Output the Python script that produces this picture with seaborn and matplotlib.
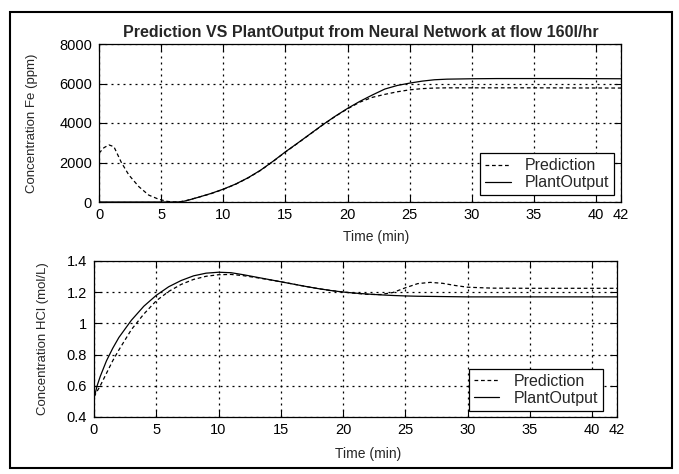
import matplotlib
matplotlib.use("Agg")
import matplotlib.pyplot as plt
import seaborn as sns
import pandas as pd
from matplotlib.patches import Rectangle

# ---------------- data ----------------
title = "Prediction VS PlantOutput from Neural Network at flow 160l/hr"
xlabel = "Time (min)"
ylabel_fe = "Concentration Fe (ppm)"
ylabel_hcl = "Concentration HCl (mol/L)"
series_names = ["Prediction", "PlantOutput"]

x_ticks = [0, 5, 10, 15, 20, 25, 30, 35, 40, 42]
fe_ticks = [0, 2000, 4000, 6000, 8000]
hcl_ticks = [0.4, 0.6, 0.8, 1.0, 1.2, 1.4]
hcl_tick_labels = ["0.4", "0.6", "0.8", "1", "1.2", "1.4"]

t_fe_pred = [0, 0.4, 0.8, 1.2, 1.8, 2.4, 3.2, 4.0, 4.8, 5.5, 6, 6.5, 7,
             8, 9, 10, 11, 12, 13, 14, 15, 16, 17, 18, 19, 20, 21, 22, 23, 24,
             25, 26, 27, 28, 30, 32, 35, 38, 42]
fe_pred = [2470, 2750, 2890, 2800, 2000, 1370, 780, 350, 140, 30, 0, 10, 70,
           240, 420, 640, 900, 1220, 1600, 2050, 2530, 2980, 3440, 3900, 4330,
           4720, 5060, 5300, 5450, 5580, 5680, 5740, 5770, 5780, 5780, 5780,
           5780, 5775, 5770]

t_fe_plant = [0, 1, 2, 3, 4, 5, 6, 6.5, 7, 8, 9, 10, 11, 12, 13, 14, 15, 16,
              17, 18, 19, 20, 21, 22, 23, 24, 25, 26, 27, 28, 30, 32, 35, 38, 42]
fe_plant = [0, 0, 0, 0, 0, 0, 0, 5, 60, 240, 430, 650, 910, 1230, 1610, 2060,
            2540, 2990, 3450, 3910, 4340, 4740, 5100, 5420, 5720, 5900, 6020,
            6120, 6190, 6220, 6240, 6250, 6250, 6250, 6240]

t_hcl_pred = [0, 0.5, 1, 1.5, 2, 3, 4, 5, 6, 7, 8, 9, 10, 11, 12, 13, 14, 15,
              16, 17, 18, 19, 20, 21, 22, 23, 24, 25, 26, 27, 28, 29, 30, 32,
              35, 38, 42]
hcl_pred = [0.53, 0.60, 0.68, 0.76, 0.83, 0.96, 1.06, 1.145, 1.205, 1.25,
            1.282, 1.302, 1.312, 1.314, 1.306, 1.294, 1.281, 1.267, 1.252,
            1.237, 1.223, 1.211, 1.201, 1.193, 1.186, 1.185, 1.198, 1.228,
            1.255, 1.263, 1.257, 1.243, 1.232, 1.226, 1.225, 1.225, 1.225]

t_hcl_plant = [0, 0.25, 0.5, 1, 1.5, 2, 3, 4, 5, 6, 7, 8, 9, 10, 11, 12, 13,
               14, 15, 16, 17, 18, 19, 20, 21, 22, 23, 24, 25, 26, 28, 30, 32,
               35, 38, 42]
hcl_plant = [0.52, 0.60, 0.66, 0.76, 0.84, 0.91, 1.02, 1.11, 1.18, 1.235,
             1.275, 1.305, 1.322, 1.328, 1.325, 1.312, 1.297, 1.282, 1.267,
             1.252, 1.237, 1.223, 1.211, 1.201, 1.194, 1.188, 1.183, 1.179,
             1.176, 1.174, 1.172, 1.170, 1.170, 1.170, 1.170, 1.170]

# ---------------- style ----------------
sns.set_style("white")
plt.rcParams["font.family"] = ["Liberation Sans", "DejaVu Sans"]
plt.rcParams["axes.edgecolor"] = "black"
plt.rcParams["axes.linewidth"] = 0.9

W, H = 679, 474
fig = plt.figure(figsize=(W / 100, H / 100), dpi=100)
fig.patch.set_facecolor("white")

ax1 = fig.add_axes([99 / W, 1 - 202 / H, 522 / W, 158 / H])
ax2 = fig.add_axes([94 / W, 1 - 417 / H, 523 / W, 156 / H])

pred_ls = (0, (3.0, 2.2))
grid_ls = (0, (1.6, 3.2))

df_fe_pred = pd.DataFrame({"t": t_fe_pred, "v": fe_pred})
df_fe_plant = pd.DataFrame({"t": t_fe_plant, "v": fe_plant})
df_hcl_pred = pd.DataFrame({"t": t_hcl_pred, "v": hcl_pred})
df_hcl_plant = pd.DataFrame({"t": t_hcl_plant, "v": hcl_plant})

for ax, dpred, dplant in [(ax1, df_fe_pred, df_fe_plant),
                          (ax2, df_hcl_pred, df_hcl_plant)]:
    sns.lineplot(data=dpred, x="t", y="v", ax=ax, color="black",
                 linestyle=pred_ls, linewidth=0.9, label=series_names[0])
    sns.lineplot(data=dplant, x="t", y="v", ax=ax, color="black",
                 linestyle="-", linewidth=0.9, label=series_names[1])
    ax.set_xlim(0, 42)
    ax.set_xticks(x_ticks)
    ax.set_xticklabels([str(v) for v in x_ticks])
    ax.grid(True, color="black", linestyle=grid_ls, linewidth=0.9)
    ax.tick_params(direction="in", length=5, width=0.8, colors="black",
                   labelsize=10.5, pad=4, top=True, right=True,
                   bottom=True, left=True)
    ax.tick_params(axis="y", pad=5)
    for s in ax.spines.values():
        s.set_color("black")
        s.set_linewidth(0.9)
    ax.set_xlabel(xlabel, fontsize=10)
    leg = ax.legend(loc="lower right", fontsize=11.5, frameon=True,
                    fancybox=False, framealpha=1, edgecolor="black",
                    handlelength=1.6, handletextpad=0.9, labelspacing=0.12,
                    borderpad=0.3, borderaxespad=0.0)
    leg.get_frame().set_linewidth(0.9)

ax1.set_ylim(0, 8000)
ax1.set_yticks(fe_ticks)
ax1.set_yticklabels([str(v) for v in fe_ticks])
ax1.set_ylabel(ylabel_fe, fontsize=9.5)
ax1.yaxis.set_label_coords(-0.117, 0.5)
ax1.xaxis.set_label_coords(0.53, -0.18)
ax1.legend_.set_bbox_to_anchor((0.987, 0.045), transform=ax1.transAxes)

ax2.set_ylim(0.4, 1.4)
ax2.set_yticks(hcl_ticks)
ax2.set_yticklabels(hcl_tick_labels)
ax2.set_ylabel(ylabel_hcl, fontsize=9.5)
ax2.yaxis.set_label_coords(-0.086, 0.5)
ax2.xaxis.set_label_coords(0.525, -0.195)
ax2.legend_.set_bbox_to_anchor((0.973, 0.04), transform=ax2.transAxes)

fig.text(361 / W, 1 - 32 / H, title, ha="center", va="center",
         fontsize=11.5, fontweight="bold")

fig.add_artist(Rectangle((10 / W, 6 / H), 662 / W, 456 / H,
                         transform=fig.transFigure, fill=False,
                         linewidth=1.5, edgecolor="black"))

fig.savefig("out.png", dpi=100, facecolor="white")
